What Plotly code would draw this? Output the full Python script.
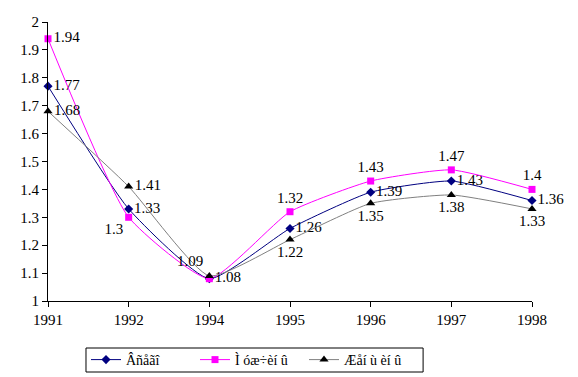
import plotly.graph_objects as go

years = ["1991", "1992", "1994", "1995", "1996", "1997", "1998"]
total = [1.77, 1.33, 1.08, 1.26, 1.39, 1.43, 1.36]
men = [1.94, 1.30, 1.08, 1.32, 1.43, 1.47, 1.40]
women = [1.68, 1.41, 1.09, 1.22, 1.35, 1.38, 1.33]
names = ["Âñåãî", "Ì óæ÷èí û", "Æåí ù èí û"]
yticks = [1, 1.1, 1.2, 1.3, 1.4, 1.5, 1.6, 1.7, 1.8, 1.9, 2]

def fmt(v):
    return ("%g" % v)

font = dict(family="Liberation Serif, Times New Roman, serif", size=15, color="black")
legfont = dict(family="Liberation Serif, Times New Roman, serif", size=14, color="black")

men_text = [fmt(v) for v in men]
men_text[2] = ""  # overlaps the 1.08 label of the first series

fig = go.Figure()
fig.add_trace(go.Scatter(
    x=years, y=total, name=names[0], mode="lines+markers+text",
    line=dict(color="#000080", width=1, shape="spline", smoothing=0.5),
    marker=dict(symbol="diamond", size=7, color="#000080"),
    text=[fmt(v) for v in total],
    textposition=["middle right"] * 7,
    textfont=font, cliponaxis=False))
fig.add_trace(go.Scatter(
    x=years, y=men, name=names[1], mode="lines+markers+text",
    line=dict(color="#FF00FF", width=1, shape="spline", smoothing=0.5),
    marker=dict(symbol="square", size=7, color="#FF00FF"),
    text=men_text,
    textposition=["middle right", "bottom left", "middle right", "top center",
                  "top center", "top center", "top center"],
    textfont=font, cliponaxis=False))
fig.add_trace(go.Scatter(
    x=years, y=women, name=names[2], mode="lines+markers+text",
    line=dict(color="#808080", width=1, shape="spline", smoothing=0.5),
    marker=dict(symbol="triangle-up", size=8, color="black"),
    text=[fmt(v) for v in women],
    textposition=["middle right", "middle right", "top left", "bottom center",
                  "bottom center", "bottom center", "bottom center"],
    textfont=font, cliponaxis=False))

fig.update_layout(
    width=570, height=369,
    margin=dict(l=40, r=46, t=14, b=76),
    paper_bgcolor="white", plot_bgcolor="white",
    font=font,
    showlegend=True,
    legend=dict(orientation="h", xref="container", yref="container",
                x=78 / 570, xanchor="left", y=1 - 352 / 369, yanchor="middle",
                bgcolor="rgba(0,0,0,0)", borderwidth=0, font=legfont,
                entrywidth=64, entrywidthmode="pixels", tracegroupgap=0,
                traceorder="normal"),
    shapes=[dict(type="rect", xref="paper", yref="paper",
                 x0=0.0785, x1=0.775, y0=-0.2545, y1=-0.1685,
                 line=dict(color="black", width=1), fillcolor="rgba(0,0,0,0)",
                 layer="above")],
    xaxis=dict(type="category", range=[0, 6], showline=True, linecolor="black",
               linewidth=1, ticks="outside", ticklen=5, tickcolor="black",
               showgrid=False, zeroline=False, tickfont=font, automargin=False,
               tickmode="array", tickvals=years, ticktext=years),
    yaxis=dict(range=[1, 2], showline=True, linecolor="black", linewidth=1,
               ticks="outside", ticklen=5, tickcolor="black", showgrid=False,
               zeroline=False, tickvals=yticks, ticktext=[fmt(v) for v in yticks],
               tickfont=font, automargin=False),
)
fig.write_html("out.html")
